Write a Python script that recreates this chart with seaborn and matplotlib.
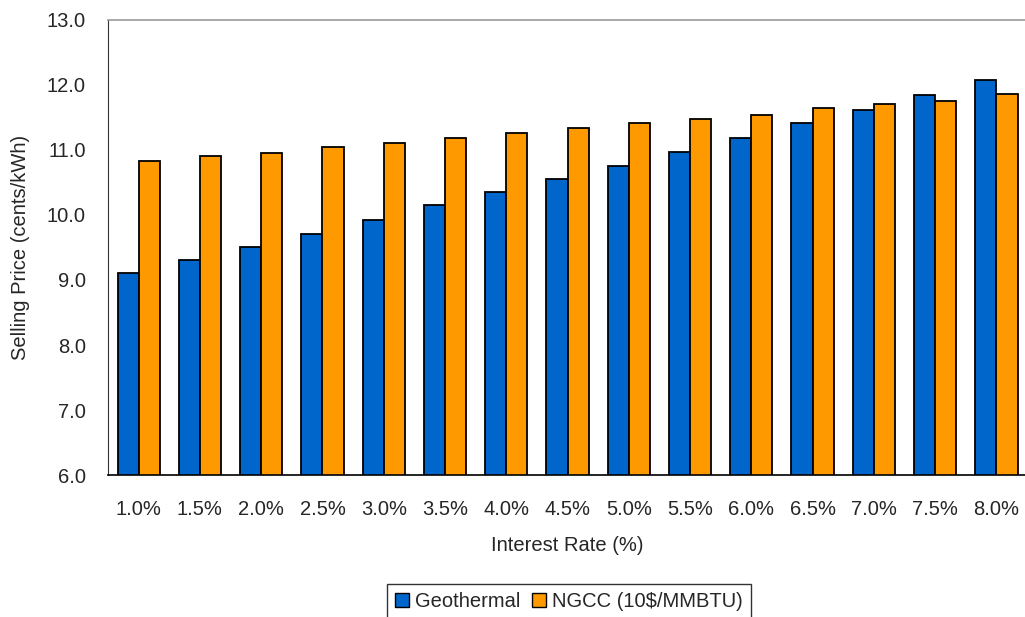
import numpy as np
import pandas as pd
import seaborn as sns
from matplotlib import pyplot as plt
from matplotlib.ticker import FixedLocator

#chart values
rates = ["1.0%", "1.5%", "2.0%", "2.5%", "3.0%", "3.5%", "4.0%", "4.5%",
         "5.0%", "5.5%", "6.0%", "6.5%", "7.0%", "7.5%", "8.0%"]
geothermal = [9.10, 9.31, 9.51, 9.71, 9.92, 10.15, 10.36, 10.56,
              10.75, 10.97, 11.18, 11.41, 11.61, 11.85, 12.08]
ngcc = [10.83, 10.91, 10.95, 11.05, 11.10, 11.18, 11.26, 11.33,
        11.41, 11.48, 11.53, 11.64, 11.71, 11.76, 11.86]
series_names = ["Geothermal", "NGCC (10$/MMBTU)"]
colors = ["#0066CC", "#FF9900"]

#long form for seaborn
df = pd.concat([
    pd.DataFrame({"rate": rates, "price": geothermal, "series": series_names[0]}),
    pd.DataFrame({"rate": rates, "price": ngcc, "series": series_names[1]}),
])

sns.set_style("white")
plt.rcParams['font.family'] = ['Liberation Sans', 'DejaVu Sans']

fig = plt.figure(figsize=(10.25, 6.17), dpi=100)
ax = fig.add_axes([0.1054, 0.230, 0.8966, 0.7378])

sns.barplot(data=df, x="rate", y="price", hue="series", palette=colors,
            width=0.69, gap=0, edgecolor="black", linewidth=1.3,
            saturation=1, legend=False, ax=ax)

ax.set_ylim(6.0, 13.0)
ax.set_xlim(-0.5, len(rates) - 0.5)
ax.set_yticks(np.arange(6, 13.5, 1.0))
ax.set_yticklabels([f"{v:.1f}" for v in np.arange(6, 13.5, 1.0)])
ax.tick_params(axis="y", direction="in", length=6, width=1, color="#555555",
               labelsize=14.5, pad=16)
ax.tick_params(axis="x", which="major", length=0, labelsize=14.5, pad=18)
ax.xaxis.set_minor_locator(FixedLocator(np.arange(0.5, len(rates) - 1, 1.0)))
ax.tick_params(axis="x", which="minor", direction="in", length=6, width=1,
               color="#777777")

ax.set_xlabel("Interest Rate (%)", fontsize=14.5, labelpad=12)
ax.set_ylabel("Selling Price (cents/kWh)", fontsize=14.5, labelpad=12)

ax.spines["left"].set_color("#333333")
ax.spines["bottom"].set_color("black")
ax.spines["bottom"].set_linewidth(1.2)
ax.spines["top"].set_color("#999999")
ax.spines["top"].set_linewidth(1.2)
ax.spines["right"].set_visible(False)

#legend at the bottom, its lower edge runs off the figure like the reference
handles = [plt.Rectangle((0, 0), 1, 1, facecolor=c, edgecolor="black", linewidth=1)
           for c in colors]
leg = fig.legend(handles, series_names, loc="upper center", ncol=2,
                 bbox_to_anchor=(0.555, 0.07), fontsize=14.5, frameon=True,
                 fancybox=False, edgecolor="black", handlelength=0.7,
                 handleheight=0.7, handletextpad=0.3, columnspacing=0.6,
                 borderpad=0.4)
leg.get_frame().set_linewidth(1)

fig.savefig("out.png", dpi=100)
